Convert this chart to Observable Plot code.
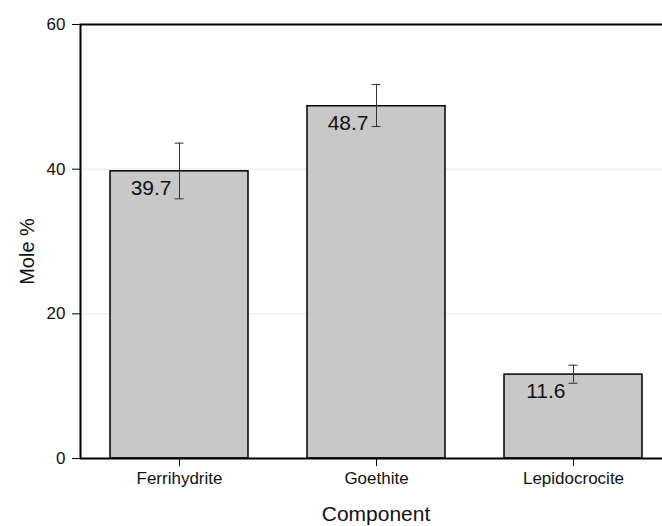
<!DOCTYPE html>
<html>
<head>
<meta charset="utf-8">
<script src="https://cdn.jsdelivr.net/npm/d3@7"></script>
<script src="https://cdn.jsdelivr.net/npm/@observablehq/plot@0.6"></script>
<style>
  html, body { margin: 0; padding: 0; background: white; overflow: hidden; }
  #chart svg { overflow: hidden; font-family: "Liberation Sans", Arial, sans-serif; }
  #chart g[aria-label="y-axis tick label"] text,
  #chart g[aria-label="x-axis tick label"] text { font-size: 17px; fill: #111; }
  #chart g[aria-label="x-axis label"] text { font-size: 21px; fill: #111; }
</style>
</head>
<body>
<div id="chart"></div>
<script>
const categories = ["Ferrihydrite", "Goethite", "Lepidocrocite"];
const values = [39.7, 48.7, 11.6];
const errLow = [35.9, 45.9, 10.4];
const errHigh = [43.6, 51.7, 12.9];
const yTicks = [0, 20, 40, 60];

const data = categories.map((c, i) => ({
  category: c, value: values[i], lo: errLow[i], hi: errHigh[i]
}));

const chart = Plot.plot({
  width: 662,
  height: 526,
  marginLeft: 80,
  marginRight: -9,
  marginTop: 24,
  marginBottom: 68,
  style: { fontFamily: "Liberation Sans, Arial, sans-serif", color: "black", background: "white" },
  x: { domain: categories, paddingInner: 0.3, paddingOuter: 0.15, label: "Component" },
  y: { domain: [0, 60], label: "Mole %" },
  marks: [
    Plot.gridY([20, 40], { stroke: "#e6e6e6", strokeOpacity: 1, strokeWidth: 1 }),
    Plot.barY(data, { x: "category", y: "value", fill: "#c8c8c8", stroke: "black", strokeWidth: 1.5 }),
    Plot.ruleX(data, { x: "category", y1: "lo", y2: "hi", stroke: "#333", strokeWidth: 1 }),
    Plot.tickY(data, { x: "category", y: "lo", stroke: "#333", strokeWidth: 1, insetLeft: 64.5, insetRight: 64.5 }),
    Plot.tickY(data, { x: "category", y: "hi", stroke: "#333", strokeWidth: 1, insetLeft: 64.5, insetRight: 64.5 }),
    Plot.text(data, { x: "category", y: "value", text: d => d.value.toFixed(1), textAnchor: "end", dx: -8, dy: 17, fontSize: 21, fill: "#111" }),
    Plot.axisY({ ticks: yTicks, tickSize: 8, tickPadding: 7, fontSize: 17, label: null }),
    Plot.text(["Mole %"], { frameAnchor: "left", textAnchor: "middle", dx: -53, dy: 10, rotate: -90, fontSize: 20, fill: "#111" }),
    Plot.axisX({ tickSize: 8, tickPadding: 5, fontSize: 17, label: "Component", labelAnchor: "center", labelArrow: "none", labelOffset: 62 }),
    Plot.frame({ stroke: "black", strokeWidth: 2 })
  ]
});
document.getElementById("chart").append(chart);
</script>
</body>
</html>
